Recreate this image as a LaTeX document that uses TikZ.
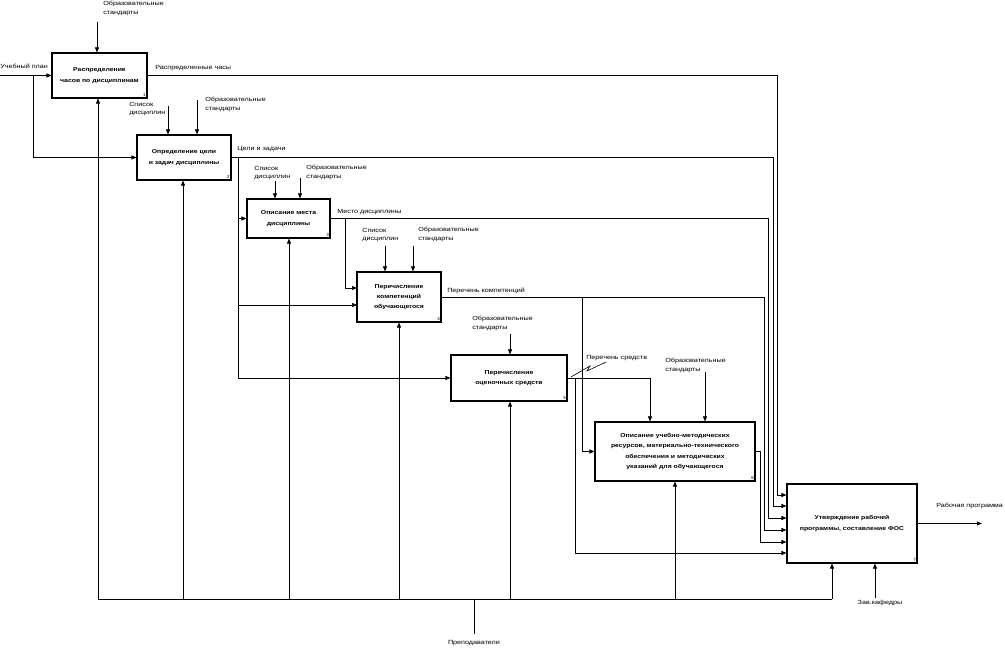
\documentclass[tikz,border=0pt]{standalone}
\usepackage{fontspec}
\setmainfont{Liberation Sans}
\newfontfamily\idef[FakeStretch=1.2]{Liberation Sans}
\usetikzlibrary{arrows.meta}
\tikzset{
  func/.style={draw, line width=1.1pt, align=center, inner sep=1pt,
    font=\idef\fontsize{5.7}{10.3}\selectfont\bfseries},
  arr/.style={-{Triangle[length=5pt,width=4pt]}},
  lbl/.style={font=\idef\fontsize{6}{8.5}\selectfont, align=left, inner sep=0pt},
  num/.style={font=\fontsize{4.5}{4.5}\selectfont, anchor=south east, inner sep=1.5pt}
}
\begin{document}
\begin{tikzpicture}[x=1pt,y=-1pt,line width=0.6pt]
\useasboundingbox (0,0) rectangle (1005,652);
% functional blocks
\node[func, minimum width=95pt, minimum height=45pt] (b1) at (99.5,75.5) {Распределение\\часов по дисциплинам};
\node[func, minimum width=94pt, minimum height=45pt] (b2) at (184,157.5) {Определение цели\\и задач дисциплины};
\node[func, minimum width=83pt, minimum height=39pt] (b3) at (288.5,218.5) {Описание места\\дисциплины};
\node[func, minimum width=84pt, minimum height=50pt] (b4) at (399,297) {Перечисление\\компетенций\\обучающегося};
\node[func, minimum width=116pt, minimum height=46pt] (b5) at (509,378) {Перечисление\\оценочных средств};
\node[func, minimum width=160pt, minimum height=59pt] (b6) at (675,451.5) {Описание учебно-методических\\ресурсов, материально-технического\\обеспечения и методических\\указаний для обучающегося};
\node[func, minimum width=130pt, minimum height=79pt] (b7) at (852,523.5) {Утверждение рабочей\\программы, составление ФОС};
\foreach \b/\n in {b1/1,b2/2,b3/3,b4/4,b5/5,b6/6,b7/7}
  \node[num] at (\b.south east) {\n};

% inputs
\coordinate (plan) at (0,75.5);
\coordinate (split1) at (33,75.5);
\draw[arr] (plan) -- (b1.west);
\draw[arr] (split1) |- (b2.west);
\node[lbl, anchor=south west] at (0,69) {Учебный план};

% controls
\coordinate (std1) at (97,22);
\draw[arr] (std1) -- (std1 |- b1.north);
\node[lbl, anchor=north west] at (103,1) {Образовательные\\стандарты};
\coordinate (lst2) at (168,106);
\coordinate (std2) at (197,100);
\draw[arr] (lst2) -- (lst2 |- b2.north);
\draw[arr] (std2) -- (std2 |- b2.north);
\node[lbl, anchor=north west] at (129,102) {Список\\дисциплин};
\node[lbl, anchor=north west] at (205,97) {Образовательные\\стандарты};
\coordinate (lst3) at (275,181);
\coordinate (std3) at (300,178);
\draw[arr] (lst3) -- (lst3 |- b3.north);
\draw[arr] (std3) -- (std3 |- b3.north);
\node[lbl, anchor=north west] at (254,166) {Список\\дисциплин};
\node[lbl, anchor=north west] at (306,165) {Образовательные\\стандарты};
\coordinate (lst4) at (385,246);
\coordinate (std4) at (413,246);
\draw[arr] (lst4) -- (lst4 |- b4.north);
\draw[arr] (std4) -- (std4 |- b4.north);
\node[lbl, anchor=north west] at (362,228) {Список\\дисциплин};
\node[lbl, anchor=north west] at (418,227) {Образовательные\\стандарты};
\coordinate (std5) at (510,334);
\draw[arr] (std5) -- (std5 |- b5.north);
\node[lbl, anchor=north west] at (472,316) {Образовательные\\стандарты};
\coordinate (std6) at (705,372);
\draw[arr] (std6) -- (std6 |- b6.north);
\node[lbl, anchor=north west] at (665,358) {Образовательные\\стандарты};

% outputs to the last block
\coordinate (c1) at (777,495);
\coordinate (c2) at (773,506);
\coordinate (c3) at (768,518);
\coordinate (c4) at (764,530);
\coordinate (c6) at (760,542);
\draw[arr] (b1.east) -| (c1) -- (b7.west |- c1);
\draw[arr] (b2.east) -| (c2) -- (b7.west |- c2);
\draw[arr] (b3.east) -| (c3) -- (b7.west |- c3);
\draw[arr] (b4.east) -| (c4) -- (b7.west |- c4);
\draw[arr] (b6.east) -| (c6) -- (b7.west |- c6);
\node[lbl, anchor=south west] at (155,71) {Распределенные часы};
\node[lbl, anchor=south west] at (237,152) {Цели и задачи};
\node[lbl, anchor=south west] at (337,215) {Место дисциплины};
\node[lbl, anchor=south west] at (447,294) {Перечень компетенций};

% branches
\coordinate (split2) at (238,157.5);
\draw[arr] (split2) |- (b5.west);
\draw[arr] (split2 |- b3.west) -- (b3.west);
\coordinate (in4b) at (357,305);
\draw[arr] (split2 |- in4b) -- (in4b);
\coordinate (split3) at (345,218.5);
\coordinate (in4a) at (357,288);
\draw[arr] (split3) |- (in4a);
\coordinate (split4) at (582,297);
\draw[arr] (split4) |- (b6.west);
\coordinate (ctl6) at (650,378);
\draw[arr] (b5.east) -| (ctl6 |- b6.north);
\coordinate (split5) at (575,378);
\coordinate (c5) at (575,553);
\draw[arr] (split5) -- (c5) -- (b7.west |- c5);
\draw (571,377) -- (590,366) -- (587,371) -- (606,362);
\node[lbl, anchor=south west] at (586,361) {Перечень средств};

% result
\coordinate (prog) at (982,523.5);
\draw[arr] (b7.east) -- (prog);
\node[lbl, anchor=south west] at (936,509) {Рабочая программа};

% mechanisms
\coordinate (zav) at (875,598);
\draw[arr] (zav) -- (zav |- b7.south);
\node[lbl, anchor=north] at (880,600) {Зав.кафедры};
\draw (98,599) -- (832,599);
\foreach \b/\x in {b1/98,b2/183,b3/289,b4/399,b5/510,b6/675,b7/832}{
  \coordinate (m\b) at (\x,599);
  \draw[arr] (m\b) -- (m\b |- \b.south);
}
\coordinate (prep) at (474,634);
\draw (474,599) -- (prep);
\node[lbl, anchor=north] at (474,640) {Преподаватели};
\end{tikzpicture}
\end{document}
